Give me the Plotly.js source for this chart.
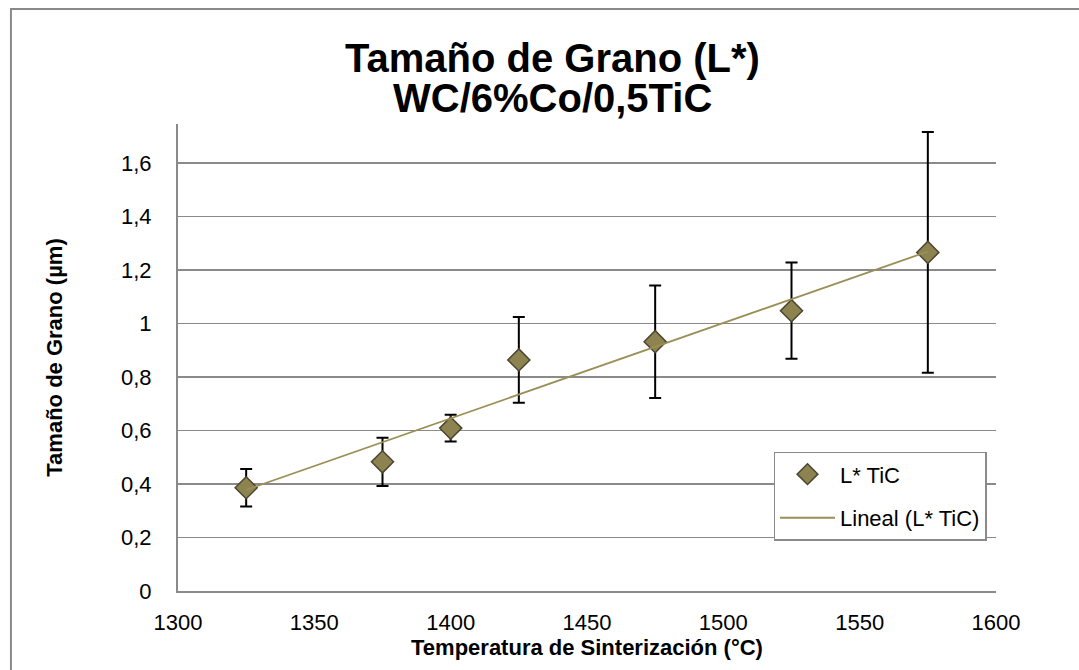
<!DOCTYPE html>
<html>
<head>
<meta charset="utf-8">
<script src="https://cdn.plot.ly/plotly-3.0.1.min.js"></script>
<style>
html,body{margin:0;padding:0;background:#fff;overflow:hidden;}
#chart{width:1079px;height:670px;}
</style>
</head>
<body>
<div id="chart"></div>
<script>
// Data
const temperatures = [1325, 1375, 1400, 1425, 1475, 1525, 1575];
const grainSize    = [0.386, 0.483, 0.609, 0.864, 0.932, 1.048, 1.266];
const errorSize    = [0.070, 0.090, 0.050, 0.160, 0.210, 0.180, 0.450];

const titleLine1 = 'Tamaño de Grano (L*)';
const titleLine2 = 'WC/6%Co/0,5TiC';
const xTitle = 'Temperatura de Sinterización (°C)';
const yTitle = 'Tamaño de Grano (µm)';
const seriesName = 'L* TiC';
const trendName = 'Lineal (L* TiC)';

// Least squares linear trendline computed from the data
function linearFit(xs, ys){
  const n = xs.length;
  let sx=0, sy=0, sxx=0, sxy=0;
  for(let i=0;i<n;i++){sx+=xs[i];sy+=ys[i];sxx+=xs[i]*xs[i];sxy+=xs[i]*ys[i];}
  const m = (n*sxy - sx*sy)/(n*sxx - sx*sx);
  const b = (sy - m*sx)/n;
  return {m:m,b:b};
}
const fit = linearFit(temperatures, grainSize);
const trendX = [Math.min(...temperatures), Math.max(...temperatures)];
const trendY = trendX.map(x => fit.m*x + fit.b);

const FONT = '"Liberation Sans", Arial, sans-serif';
const olive = '#8c8350';
const oliveLine = '#9a8f55';

const traces = [
  {
    x: temperatures, y: grainSize, name: seriesName,
    type: 'scatter', mode: 'markers', legendgroup: 'a',
    marker: {symbol: 'diamond', size: 17, color: olive, line: {color: '#4a4630', width: 1.5}},
    error_y: {type: 'data', array: errorSize, visible: true, color: '#000', thickness: 2, width: 6},
    cliponaxis: false
  },
  {
    x: trendX, y: trendY, name: trendName, legendgroup: 'b',
    type: 'scatter', mode: 'lines',
    line: {color: oliveLine, width: 1.8}
  }
];

const layout = {
  width: 1079, height: 670,
  margin: {l: 178, r: 83, t: 124, b: 79, pad: 0},
  paper_bgcolor: '#fff', plot_bgcolor: '#fff',
  separators: ',.',
  font: {family: FONT, size: 22, color: '#000'},
  showlegend: true,
  legend: {
    x: 0.728, y: 0.298, xanchor: 'left', yanchor: 'top',
    bgcolor: '#fff', bordercolor: '#8a8a8a', borderwidth: 1.5,
    font: {family: FONT, size: 22, color: '#000'},
    traceorder: 'grouped', tracegroupgap: 12, itemwidth: 55
  },
  xaxis: {
    range: [1300, 1600], dtick: 50, tick0: 1300,
    showgrid: false, zeroline: false,
    showline: true, linecolor: '#8a8a8a', linewidth: 2,
    ticks: '', ticklabelstandoff: 11,
    tickfont: {family: FONT, size: 22, color: '#000'},
    title: {text: xTitle, font: {family: FONT, size: 22, color: '#000', weight: 'bold'}, standoff: 4}
  },
  yaxis: {
    range: [0, 1.746], dtick: 0.2, tick0: 0,
    showgrid: true, gridcolor: '#8a8a8a', gridwidth: 1.5,
    zeroline: false,
    showline: true, linecolor: '#8a8a8a', linewidth: 2,
    ticks: '', ticklabelstandoff: 20,
    tickfont: {family: FONT, size: 22, color: '#000'},
    title: {text: yTitle, font: {family: FONT, size: 22, color: '#000', weight: 'bold'}, standoff: 52}
  },
  annotations: [
    {text: titleLine1, xref: 'paper', yref: 'paper', x: (552-178)/817.7, y: (591-58)/467,
     xanchor: 'center', yanchor: 'middle', showarrow: false,
     font: {family: FONT, size: 40, color: '#000', weight: 'bold'}},
    {text: titleLine2, xref: 'paper', yref: 'paper', x: (552-178)/817.7, y: (591-98)/467,
     xanchor: 'center', yanchor: 'middle', showarrow: false,
     font: {family: FONT, size: 40, color: '#000', weight: 'bold'}}
  ],
  shapes: [
    {type: 'rect', xref: 'paper', yref: 'paper',
     x0: (11-178)/817.7, x1: 1.6, y0: -0.5, y1: (591-9)/467,
     line: {color: '#8a8a8a', width: 2}, fillcolor: 'rgba(0,0,0,0)', layer: 'below'}
  ]
};

Plotly.newPlot('chart', traces, layout, {displayModeBar: false, staticPlot: true});
</script>
</body>
</html>
